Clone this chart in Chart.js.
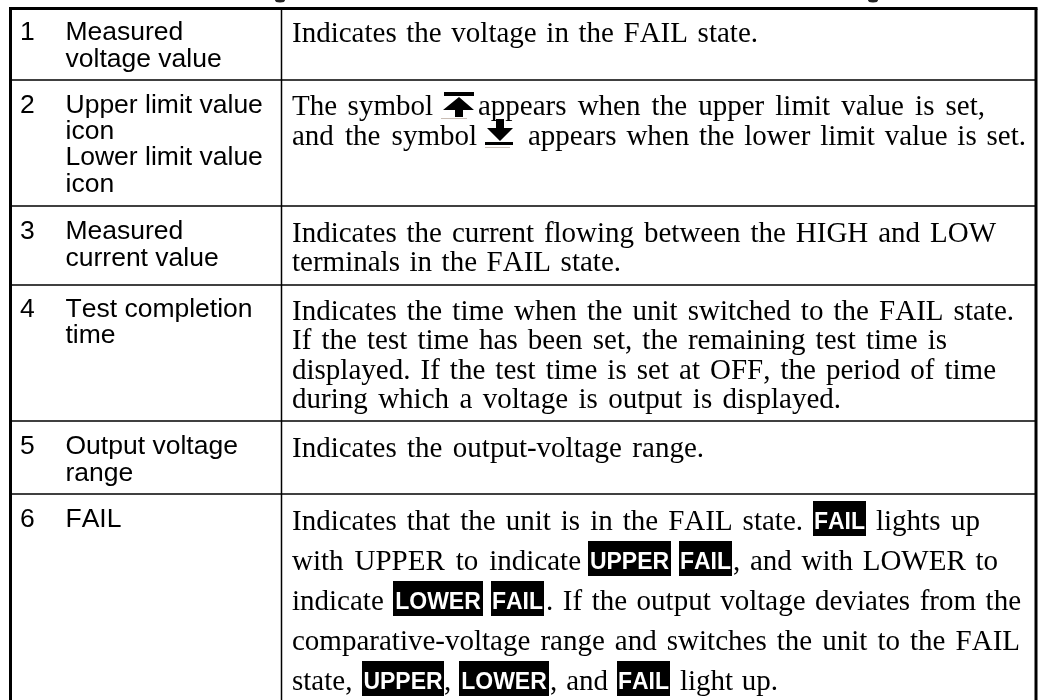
<!DOCTYPE html>
<html><head><meta charset="utf-8">
<style>html,body{margin:0;padding:0;background:#fff}canvas{display:block}</style>
<script src="https://cdn.jsdelivr.net/npm/chart.js@4"></script>
</head><body><canvas id="c" width="1038" height="700"></canvas>
<script>
// ---- table content ----
const rowNumbers = ["1","2","3","4","5","6"];
const labelLines = [
  ["Measured","voltage value"],
  ["Upper limit value","icon","Lower limit value","icon"],
  ["Measured","current value"],
  ["Test completion","time"],
  ["Output voltage","range"],
  ["FAIL"]
];
const plainRuns = [
  "Indicates the voltage in the FAIL state.",
  "The symbol","appears when the upper limit value is set,",
  "and the symbol","appears when the lower limit value is set.",
  "Indicates the current flowing between the HIGH and LOW",
  "terminals in the FAIL state.",
  "Indicates the time when the unit switched to the FAIL state.",
  "If the test time has been set, the remaining test time is",
  "displayed. If the test time is set at OFF, the period of time",
  "during which a voltage is output is displayed.",
  "Indicates the output-voltage range.",
  "Indicates that the unit is in the FAIL state.","lights up",
  "with UPPER to indicate",", and with LOWER to",
  "indicate",". If the output voltage deviates from the",
  "comparative-voltage range and switches the unit to the FAIL",
  "state,",",",", and","light up."
];
const badgeTexts = ["FAIL","UPPER","FAIL","LOWER","FAIL","UPPER","LOWER","FAIL"];

// ---- layout (separate from content) ----
const outerRect = {l:10.5,r:1036,t:8.5};
const columnX = 281.5;
const rowRules = [80,206,285,421,494];
const rowTextY = [[40,67],[113,139,165,192],[239,266],[317,343],[454,481],[527]];
const plainLayout = [
  [292,758,42],
  [292,433,115],[478,985,115],
  [292,477,145],[528,1026,145],
  [292,996,242],[292,621,271],
  [292,1014,320],[292,947,349],[292,996,379],[292,841,408],
  [292,704,457],
  [292,803,530],[876,980,530],
  [292,581,570],[733,998,570],
  [292,388,610],[546,1021,610],
  [292,1020,650],
  [292,357,690],[444,449,690],[550,608,690],[680,778,690]
];
const badgeLayout = [
  [813,866,501],[588,671,541],[679,732,541],[393,483,581],[491,544,581],
  [362,444,661],[459,549,661],[617,670,661]
];
const blobX = [280,873];

const tablePlugin = {
  id:'tablePlugin',
  afterDatasetsDraw(chart){
    const ctx = chart.ctx, X = chart.scales.x, Y = chart.scales.y;
    const px = v => X.getPixelForValue(v), py = v => Y.getPixelForValue(v);
    ctx.save();
    ctx.textBaseline = 'alphabetic'; ctx.textAlign='left'; ctx.fillStyle='#000';
    ctx.fontKerning='none';
    // labels
    const SANS = '"Liberation Sans"', SERIF = '"Liberation Serif"';
    ctx.font = '26.5px '+SANS;
    ctx.letterSpacing='0px'; ctx.wordSpacing='0px';
    rowNumbers.forEach((n,i)=>{
      ctx.fillText(n, px(20), py(rowTextY[i][0]));
      labelLines[i].forEach((t,j)=>ctx.fillText(t, px(65.5), py(rowTextY[i][j])));
    });
    // description
    ctx.font = '29px '+SERIF;
    ctx.letterSpacing='0px';
    plainRuns.forEach((t,i)=>{
      const [a,b,y]=plainLayout[i];
      ctx.wordSpacing='0px';
      const w=ctx.measureText(t).width, n=(t.match(/ /g)||[]).length;
      ctx.wordSpacing=(n?Math.max(0,(b-a-w)/n):0)+'px';
      ctx.fillText(t,px(a),py(y));
    });
    // badges
    ctx.wordSpacing='0px'; ctx.letterSpacing='0px';
    ctx.font='bold 23px '+SANS;
    badgeTexts.forEach((t,i)=>{
      const [a,b,y]=badgeLayout[i];
      ctx.fillStyle='#000';
      ctx.fillRect(px(a),py(y),px(b)-px(a),py(y+35)-py(y));
      ctx.fillStyle='#fff'; ctx.textAlign='center';
      ctx.fillText(t,(px(a)+px(b))/2,py(y+28));
      ctx.textAlign='left';
    });
    // limit icons
    ctx.fillStyle='#000';
    const poly=(pts)=>{ctx.beginPath();pts.forEach((p,k)=>k?ctx.lineTo(px(p[0]),py(p[1])):ctx.moveTo(px(p[0]),py(p[1])));ctx.closePath();ctx.fill();};
    poly([[444,92],[474,92],[474,96],[444,96]]);
    poly([[459,97],[474,110],[463,110],[463,117],[455,117],[455,110],[443,110]]);
    poly([[496,119],[504,119],[504,128],[513,128],[500,141],[487,128],[496,128]]);
    poly([[485,142],[513,142],[513,145],[485,145]]);
    ctx.strokeStyle='#c9bdb5'; ctx.lineWidth=1;
    [[441,467,118.5],[485,510,147.5]].forEach(s=>{ctx.beginPath();ctx.moveTo(px(s[0]),py(s[2]));ctx.lineTo(px(s[1]),py(s[2]));ctx.stroke();});
    // clipped heading descenders at the picture's top edge
    ctx.fillStyle='#222';
    blobX.forEach(x=>{ctx.beginPath();ctx.ellipse(px(x),py(0),5,2.5,0,0,Math.PI*2);ctx.fill();});
    ctx.restore();
  }
};

const rule=(x1,y1,x2,y2,w)=>({type:'line',data:[{x:x1,y:y1},{x:x2,y:y2}],borderColor:'#000',borderWidth:w,pointRadius:0,tension:0,clip:false,borderCapStyle:'butt'});
const bottom=700, rows=rowRules.map(y=>rule(outerRect.l,y,outerRect.r,y,1.7));
new Chart(document.getElementById('c'),{
  type:'scatter',
  data:{datasets:[
    rule(outerRect.l-1.5,outerRect.t,outerRect.r+1.5,outerRect.t,3),
    rule(outerRect.l,outerRect.t,outerRect.l,bottom,3),
    rule(outerRect.r,outerRect.t,outerRect.r,bottom,3),
    rule(columnX,outerRect.t,columnX,bottom,1.5),
    ...rows
  ]},
  options:{
    responsive:false,animation:false,events:[],
    layout:{padding:0},
    plugins:{legend:{display:false},tooltip:{enabled:false},title:{display:false}},
    scales:{
      x:{type:'linear',min:0,max:1038,display:false},
      y:{type:'linear',min:0,max:700,reverse:true,display:false}
    }
  },
  plugins:[tablePlugin]
});
</script></body></html>
